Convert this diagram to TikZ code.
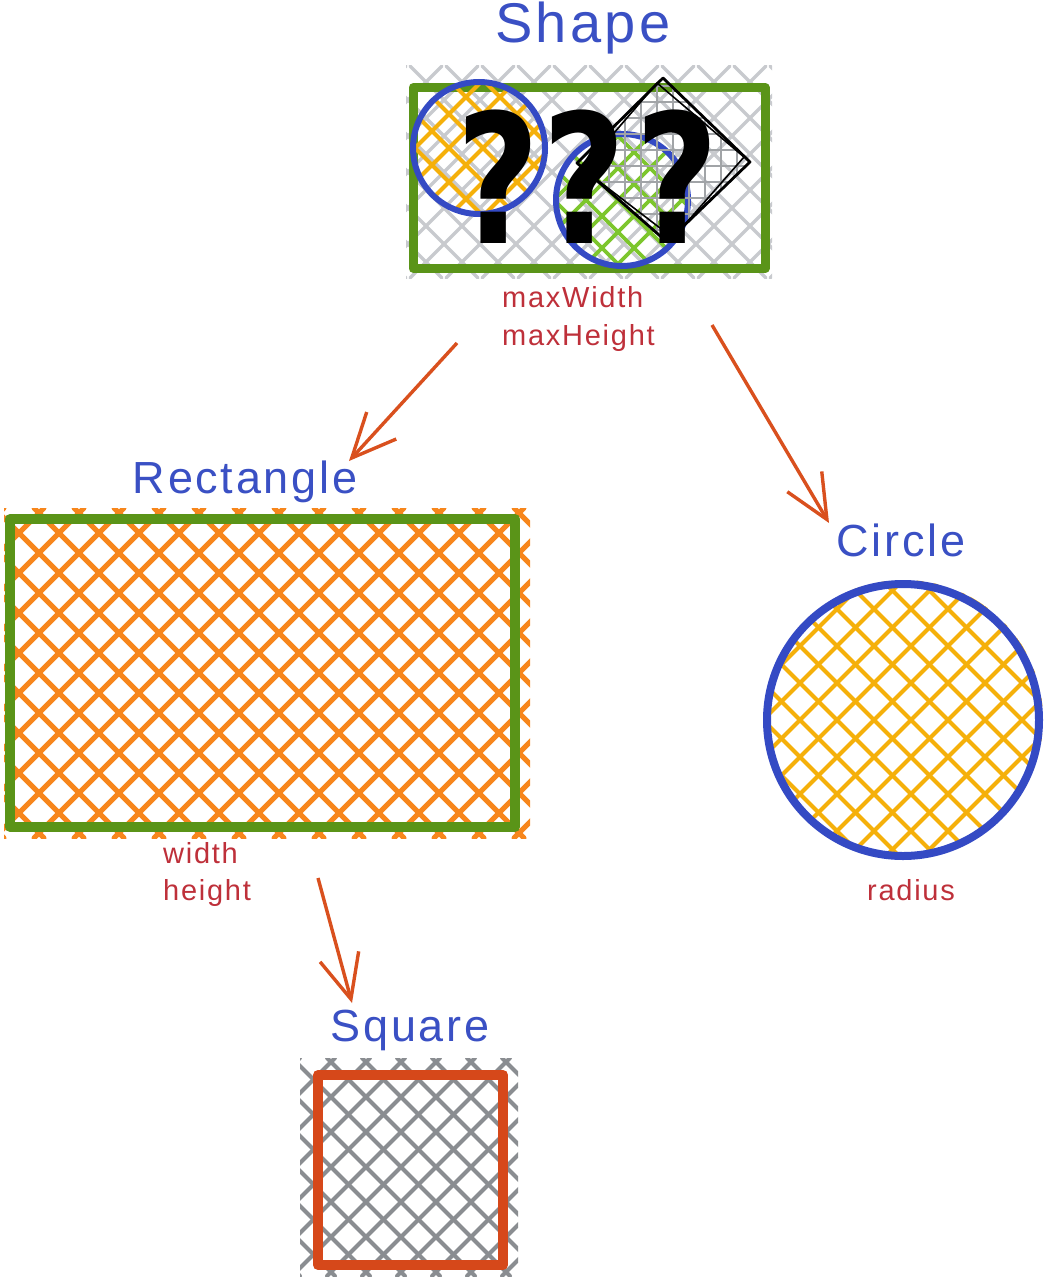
\documentclass[tikz,border=0pt]{standalone}
\usepackage{fontspec}
\setmainfont{Liberation Sans}
\newfontfamily\handfont[LetterSpace=6]{Liberation Sans}
\newfontfamily\qfont{DejaVu Sans}
\usetikzlibrary{arrows.meta}
\definecolor{ttlblue}{RGB}{58,80,196}
\definecolor{lblred}{RGB}{190,48,58}
\definecolor{shgreen}{RGB}{90,148,24}
\definecolor{circblue}{RGB}{52,74,196}
\definecolor{hgrayc}{RGB}{200,202,206}
\definecolor{hyellow}{RGB}{245,176,10}
\definecolor{hgreen}{RGB}{125,198,45}
\definecolor{horange}{RGB}{247,134,28}
\definecolor{arrc}{RGB}{217,80,30}
\definecolor{sqred}{RGB}{214,72,26}
\definecolor{hdark}{RGB}{138,141,145}
\newcommand{\xhatch}[6]{%
  \pgfmathtruncatemacro\hA{#1-#4}%
  \pgfmathtruncatemacro\hB{#3-#2}%
  \pgfmathtruncatemacro\hAn{\hA+#5}%
  \foreach \c in {\hA,\hAn,...,\hB}{\draw[#6] (\c+#2,#2) -- (\c+#4,#4);}%
  \pgfmathtruncatemacro\hC{#1+#2}%
  \pgfmathtruncatemacro\hD{#3+#4}%
  \pgfmathtruncatemacro\hCn{\hC+#5}%
  \foreach \c in {\hC,\hCn,...,\hD}{\draw[#6] (\c-#2,#2) -- (\c-#4,#4);}%
}
\begin{document}
\begin{tikzpicture}[x=1pt,y=-1pt,
  title/.style={text=ttlblue, font=\handfont\fontsize{45}{54}\selectfont, inner sep=0pt},
  lbl/.style={text=lblred, font=\handfont\fontsize{29}{34}\selectfont, inner sep=0pt},
  qmark/.style={font=\qfont\bfseries\fontsize{180}{180}\selectfont, inner sep=0pt, anchor=south, xscale=0.8, transform shape},
  hgray/.style={draw=hgrayc, line width=3.4pt, line cap=round},
  hyel/.style={draw=hyellow, line width=4pt, line cap=round},
  hgrn/.style={draw=hgreen, line width=3.6pt, line cap=round},
  horg/.style={draw=horange, line width=5pt, line cap=round},
  hdrk/.style={draw=hdark, line width=4pt, line cap=round},
  hdia/.style={draw=hdark!80, line width=2.2pt, line cap=round},
  greenbox/.style={draw=shgreen, line width=10pt, line join=round},
  bluering/.style={draw=circblue, line width=7pt},
  arr/.style={draw=arrc, line width=3.4pt, -{Straight Barb[length=44pt,width=40pt,line width=3.4pt]}},
]
\useasboundingbox (0,0) rectangle (1049,1279);

% ---------- Shape ----------
\node[title, font=\handfont\fontsize{56}{64}\selectfont] (shapet) at (583,28) {Shape};
\begin{scope}
  \clip (406,66) rectangle (772,278);
  \xhatch{406}{66}{772}{278}{36}{hgray}
\end{scope}
\node[greenbox, line width=9pt, minimum width=352pt, minimum height=181pt, inner sep=0pt] (shapebox) at (589,178) {};
\begin{scope}
  \clip (479,148) circle (66);
  \xhatch{413}{82}{545}{214}{34}{hyel}
\end{scope}
\draw[bluering, line width=6pt] (479,148) circle (66) coordinate (c1);
\begin{scope}
  \clip (622,200) circle (66);
  \xhatch{556}{134}{688}{266}{32}{hgrn}
\end{scope}
\draw[bluering, line width=6pt] (622,200) circle (66) coordinate (c2);
\begin{scope}
  \clip (663,78) -- (750,162) -- (667,242) -- (577,163) -- cycle;
  \foreach \k in {0,16,...,200}{
    \draw[hdia] (577+\k,60) -- (577+\k,260);
    \draw[hdia] (570,70+\k) -- (760,70+\k);
  }
\end{scope}
\draw[line width=2.8pt, line join=round] (663,78) -- (750,162) -- (667,242) -- (577,163) -- cycle;
\draw[line width=1.6pt, line join=round] (657,83) -- (744,157) -- (673,238) -- (583,169) -- cycle;
\node[qmark] (q1) at (498,244) {?};
\node[qmark] (q2) at (584,244) {?};
\node[qmark] (q3) at (677,244) {?};
\node[lbl, anchor=west] (maxw) at (502,297) {maxWidth};
\node[lbl, anchor=west] (maxh) at (502,338) {maxHeight};

% ---------- Rectangle ----------
\node[title] (rectt) at (245,482) {Rectangle};
\begin{scope}
  \clip (4,508) rectangle (530,838);
  \xhatch{4}{508}{530}{838}{40}{horg}
\end{scope}
\node[greenbox, minimum width=505pt, minimum height=308pt, inner sep=0pt] (rectbox) at (262.5,673) {};
\node[lbl, anchor=west] (wl) at (163,853) {width};
\node[lbl, anchor=west] (hl) at (163,893) {height};

% ---------- Circle ----------
\node[title] (circt) at (901,540) {Circle};
\begin{scope}
  \clip (904,719) circle (139);
  \xhatch{760}{575}{1050}{865}{37}{hyel}
\end{scope}
\node[bluering, circle, minimum size=272pt, inner sep=0pt, line width=8pt] (circbox) at (903,720) {};
\node[lbl] (radl) at (911,890) {radius};

% ---------- Square ----------
\node[title] (sqt) at (410,1030) {Square};
\begin{scope}
  \clip (300,1058) rectangle (518,1276);
  \xhatch{300}{1058}{518}{1276}{35}{hdrk}
\end{scope}
\node[draw=sqred, line width=10pt, minimum width=185pt, minimum height=190pt, inner sep=0pt, line join=round] (sqbox) at (410.5,1170) {};

% ---------- Arrows ----------
\coordinate (a1s) at (457,343);
\coordinate (a1e) at (349,461);
\coordinate (a2s) at (712,325);
\coordinate (a2e) at (829,523);
\coordinate (a3s) at (318,878);
\coordinate (a3e) at (352,1003);
\draw[arr] (a1s) -- (a1e);
\draw[arr] (a2s) -- (a2e);
\draw[arr] (a3s) -- (a3e);
\end{tikzpicture}
\end{document}
